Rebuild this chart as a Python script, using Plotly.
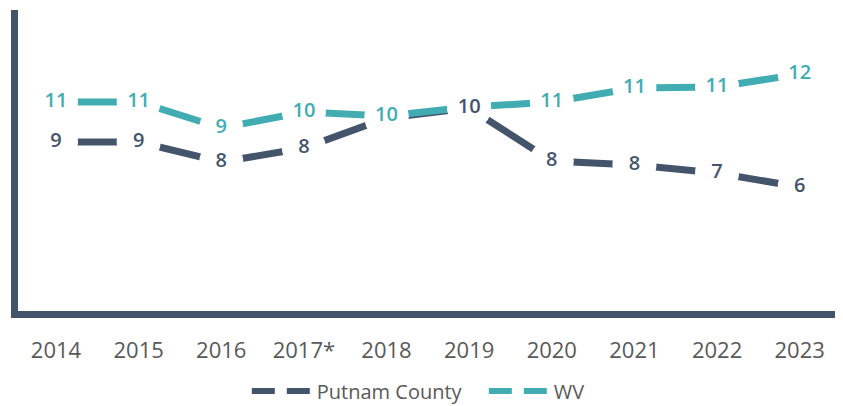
import plotly.graph_objects as go

# ---- data ----
years = ["2014", "2015", "2016", "2017*", "2018", "2019", "2020", "2021", "2022", "2023"]
putnam = [8.7, 8.7, 7.7, 8.4, 9.9, 10.4, 7.75, 7.55, 7.15, 6.45]
wv = [10.7, 10.7, 9.4, 10.2, 10.0, 10.45, 10.7, 11.4, 11.45, 12.1]
# data labels that are hidden behind the other series' label in the reference
putnam_hidden = ["2018"]
wv_hidden = ["2019"]

DARK = "#44546A"
TEAL = "#41ADB2"
GREY = "#595959"
FONT = "Open Sans"


def labels(vals, hidden):
    return ["" if y in hidden else str(int(round(v))) for y, v in zip(years, vals)]


fig = go.Figure()

series = [("Putnam County", putnam, DARK, putnam_hidden),
          ("WV", wv, TEAL, wv_hidden)]

# continuous lines
for name, vals, col, _ in series:
    fig.add_trace(go.Scatter(x=years, y=vals, mode="lines", showlegend=False,
                             line=dict(color=col, width=7), hoverinfo="skip"))
# white gaps around each point (gives the dashed look)
for name, vals, col, _ in series:
    fig.add_trace(go.Scatter(x=years, y=vals, mode="markers", showlegend=False,
                             marker=dict(color="white", size=44, line=dict(width=0)),
                             hoverinfo="skip", cliponaxis=False))
# data labels
for name, vals, col, hidden in series:
    fig.add_trace(go.Scatter(x=years, y=vals, mode="text", showlegend=False,
                             text=labels(vals, hidden), textposition="middle center",
                             textfont=dict(family=FONT, size=20, color=col, weight=600),
                             hoverinfo="skip", cliponaxis=False))
# legend entries
for name, vals, col, _ in series:
    fig.add_trace(go.Scatter(x=[None], y=[None], mode="lines", name=name,
                             line=dict(color=col, width=6, dash="23px,12px")))

fig.update_layout(
    width=835, height=398,
    margin=dict(l=10, r=2, t=2, b=95, autoexpand=False),
    paper_bgcolor="white", plot_bgcolor="white",
    hovermode=False,
    showlegend=True,
    legend=dict(orientation="h", x=0.566, xanchor="center", y=-0.2658, yanchor="middle",
                font=dict(family=FONT, size=20, color=GREY), itemwidth=60,
                entrywidth=162, entrywidthmode="pixels",
                bgcolor="rgba(0,0,0,0)"),
    xaxis=dict(type="category", range=[-0.46, 9.5], showline=True, linecolor=DARK,
               linewidth=7, ticks="", showgrid=False, zeroline=False,
               tickfont=dict(family=FONT, size=22, color=GREY), ticklabelstandoff=14),
    yaxis=dict(range=[0.25, 15.3], showline=True, linecolor=DARK, linewidth=6.5,
               showticklabels=False, ticks="", showgrid=False, zeroline=False),
)

fig.write_html("out.html")
